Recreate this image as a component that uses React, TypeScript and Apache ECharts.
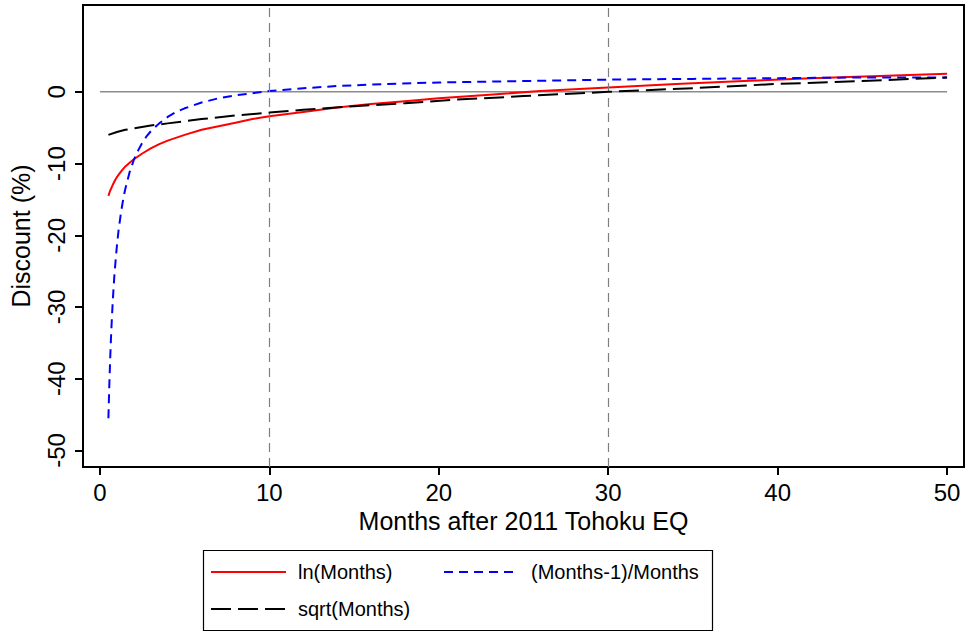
import React, { useEffect, useRef } from "react";
import * as echarts from "echarts";

const lnMonths = [0.5, 0.6, 0.75, 0.9, 1, 1.25, 1.5, 1.75, 2, 2.5, 3, 3.5, 4, 5, 6, 7, 8, 9, 10, 12, 14, 16, 18, 20, 23, 26, 30, 34, 38, 42, 46, 50];
const lnValues = [-14.5, -13.8, -13.0, -12.3, -11.9, -11.1, -10.4, -9.9, -9.4, -8.6, -7.9, -7.3, -6.8, -6.0, -5.3, -4.8, -4.3, -3.8, -3.4, -2.8, -2.2, -1.7, -1.3, -0.9, -0.4, 0.1, 0.6, 1.1, 1.5, 1.9, 2.2, 2.5];

const invMonths = [0.5, 0.55, 0.6, 0.65, 0.7, 0.75, 0.8, 0.85, 0.9, 1, 1.1, 1.25, 1.4, 1.5, 1.75, 2, 2.25, 2.5, 2.75, 3, 3.5, 4, 4.5, 5, 6, 7, 8, 9, 10, 12, 14, 17, 20, 25, 30, 35, 40, 45, 50];
const invValues = [-45.5, -41.1, -37.5, -34.4, -31.8, -29.5, -27.5, -25.7, -24.2, -21.5, -19.3, -16.7, -14.6, -13.5, -11.2, -9.5, -8.2, -7.1, -6.2, -5.5, -4.4, -3.5, -2.8, -2.3, -1.5, -0.9, -0.5, -0.2, 0.1, 0.5, 0.8, 1.1, 1.3, 1.5, 1.7, 1.8, 1.9, 2.0, 2.0];

const sqrtMonths = [0.5, 1, 1.5, 2, 3, 4, 5, 6, 8, 10, 12, 15, 18, 21, 25, 30, 35, 40, 45, 50];
const sqrtValues = [-6.0, -5.6, -5.3, -5.1, -4.7, -4.4, -4.1, -3.8, -3.3, -2.9, -2.5, -2.0, -1.6, -1.1, -0.6, 0.0, 0.5, 1.1, 1.5, 2.0];

const zeroLineX = [0, 50];
const zeroLineY = [0, 0];
const verticalMarks = [10, 30];

const xTicks = [0, 10, 20, 30, 40, 50];
const yTicks = [-50, -40, -30, -20, -10, 0];

const seriesNames = ["ln(Months)", "(Months-1)/Months", "sqrt(Months)"];

const FONT = "Liberation Sans, Arial, sans-serif";

function pairs(xs: number[], ys: number[]) {
  return xs.map((x, i) => [x, ys[i]]);
}

export default function App() {
  const ref = useRef<HTMLDivElement>(null);
  useEffect(() => {
    if (!ref.current) return;
    const chart = echarts.init(ref.current, undefined, { renderer: "svg" });
    const legendText = { fontSize: 20, color: "#000", fontFamily: FONT, padding: [0, 0, 0, 7] };
    const legendCommon = {
      padding: 0,
      itemWidth: 75,
      itemHeight: 14,
      textStyle: legendText,
      selectedMode: false,
      itemStyle: { opacity: 0 },
    };
    chart.setOption({
      animation: false,
      backgroundColor: "#fff",
      textStyle: { fontFamily: FONT },
      grid: {
        left: 83,
        right: 2,
        top: 5,
        bottom: 165,
        show: true,
        borderColor: "#000",
        borderWidth: 2,
        backgroundColor: "#fff",
      },
      xAxis: {
        type: "value",
        min: -1,
        max: 51,
        name: "Months after 2011 Tohoku EQ",
        nameLocation: "middle",
        nameGap: 32,
        nameTextStyle: { fontSize: 25, color: "#000", fontFamily: FONT },
        axisLine: { show: true, onZero: false, lineStyle: { color: "#000", width: 2 } },
        axisTick: { show: true, length: 8, lineStyle: { color: "#000", width: 2 }, customValues: xTicks },
        axisLabel: { fontSize: 24, color: "#000", margin: 13, fontFamily: FONT, customValues: xTicks },
        splitLine: { show: false },
      },
      yAxis: {
        type: "value",
        min: -52.3,
        max: 12.1,
        name: "Discount (%)",
        nameLocation: "middle",
        nameGap: 50,
        nameTextStyle: { fontSize: 25, color: "#000", fontFamily: FONT },
        axisLine: { show: true, onZero: false, lineStyle: { color: "#000", width: 2 } },
        axisTick: { show: true, length: 8, lineStyle: { color: "#000", width: 2 }, customValues: yTicks },
        axisLabel: { fontSize: 24, color: "#000", margin: 15, rotate: 90, fontFamily: FONT, customValues: yTicks },
        splitLine: { show: false },
      },
      legend: [
        { ...legendCommon, data: [seriesNames[0]], left: 210, top: 562 },
        { ...legendCommon, data: [seriesNames[1]], left: 443, top: 562 },
        { ...legendCommon, data: [seriesNames[2]], left: 210, top: 599 },
      ],
      graphic: [
        {
          type: "rect",
          shape: { x: 203.5, y: 550.5, width: 509, height: 80 },
          style: { fill: "none", stroke: "#000", lineWidth: 1.2 },
          silent: true,
        },
      ],
      series: [
        {
          name: "zero",
          type: "line",
          data: pairs(zeroLineX, zeroLineY),
          symbol: "none",
          silent: true,
          lineStyle: { color: "#8c8c8c", width: 1.5 },
          z: 1,
          markLine: {
            silent: true,
            symbol: "none",
            label: { show: false },
            lineStyle: { color: "#7f7f7f", width: 1.2, type: [9, 6] },
            data: verticalMarks.map((v) => ({ xAxis: v })),
          },
        },
        {
          name: seriesNames[0],
          type: "line",
          data: pairs(lnMonths, lnValues),
          symbol: "none",
          lineStyle: { color: "#ff0000", width: 2, type: "solid" },
          itemStyle: { color: "#ff0000" },
          z: 3,
        },
        {
          name: seriesNames[1],
          type: "line",
          data: pairs(invMonths, invValues),
          symbol: "none",
          lineStyle: { color: "#0000ff", width: 2, type: [9, 6] },
          itemStyle: { color: "#0000ff" },
          z: 4,
        },
        {
          name: seriesNames[2],
          type: "line",
          data: pairs(sqrtMonths, sqrtValues),
          symbol: "none",
          lineStyle: { color: "#000000", width: 2, type: [20, 7] },
          itemStyle: { color: "#000000" },
          z: 5,
        },
      ],
    });
    return () => chart.dispose();
  }, []);
  return <div ref={ref} style={{ width: 966, height: 632, position: "absolute", left: 0, top: 0 }} />;
}
